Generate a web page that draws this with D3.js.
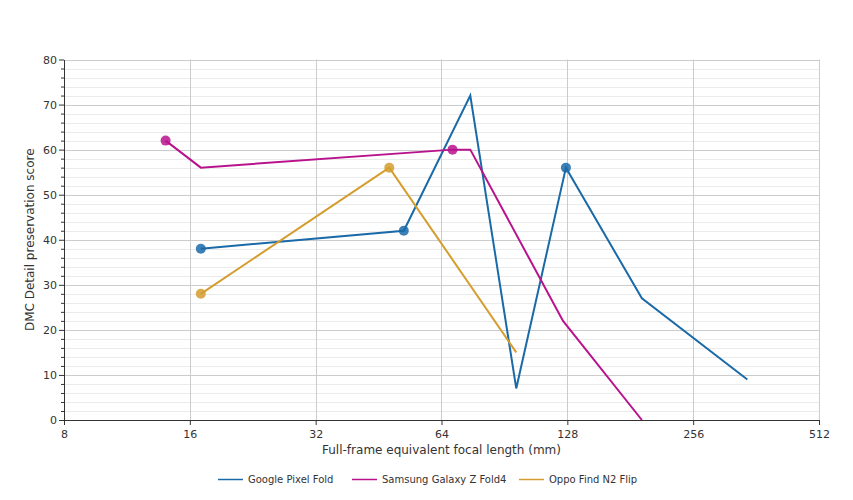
<!DOCTYPE html>
<html><head><meta charset="utf-8">
<script src="https://cdn.jsdelivr.net/npm/d3@7"></script>
<style>body{margin:0;background:#fff}svg text{font-family:"DejaVu Sans",Verdana,sans-serif;fill:#333}</style>
</head><body><svg id="c" width="853" height="500"></svg>
<script>
const xTicks = [8, 16, 32, 64, 128, 256, 512];
const yTicks = [0, 10, 20, 30, 40, 50, 60, 70, 80];
const seriesNames = ["Google Pixel Fold", "Samsung Galaxy Z Fold4", "Oppo Find N2 Flip"];
const seriesColors = ["#1b6aa8", "#b8138d", "#d49d2e"];
const pixelX = [17, 52, 75, 96.6, 127, 193, 345];
const pixelY = [38, 42, 72, 7, 56, 27, 9];
const pixelMarkers = [17, 52, 127];
const samsungX = [14, 17, 68, 75, 125, 193];
const samsungY = [62, 56, 60, 60, 22, 0];
const samsungMarkers = [14, 68];
const oppoX = [17, 48, 96.6];
const oppoY = [28, 56, 15];
const oppoMarkers = [17, 48];

const series = [
  {xs: pixelX, ys: pixelY, m: pixelMarkers},
  {xs: samsungX, ys: samsungY, m: samsungMarkers},
  {xs: oppoX, ys: oppoY, m: oppoMarkers}
];

const svg = d3.select("#c");
const L = 64, R = 819, T = 59.5, B = 420;
const x = d3.scaleLog().base(2).domain([8, 512]).range([L, R]);
const y = d3.scaleLinear().domain([0, 80]).range([B, T]);

const g = svg.append("g");
// minor grid
const minor = d3.range(0, 81, 2).filter(v => v % 10 !== 0);
g.selectAll(".mg").data(minor).join("line")
  .attr("x1", L).attr("x2", R).attr("y1", d => Math.round(y(d)) + 0.5).attr("y2", d => Math.round(y(d)) + 0.5)
  .attr("stroke", "#ebebeb").attr("stroke-width", 1);
// major grid
g.selectAll(".yg").data(yTicks.filter(d => d > 0)).join("line")
  .attr("x1", L).attr("x2", R).attr("y1", d => Math.round(y(d)) + 0.5).attr("y2", d => Math.round(y(d)) + 0.5)
  .attr("stroke", "#cccccc");
g.selectAll(".xg").data(xTicks.filter(d => d > 8)).join("line")
  .attr("y1", T).attr("y2", B).attr("x1", d => Math.round(x(d)) + 0.5).attr("x2", d => Math.round(x(d)) + 0.5)
  .attr("stroke", "#cccccc");

// axes
const xAxis = d3.axisBottom(x).tickValues(xTicks).tickFormat(d3.format("d")).tickSize(5).tickSizeOuter(0);
const xa = svg.append("g").attr("transform", `translate(0,${B})`).call(xAxis);
xa.select(".domain").attr("stroke", "#333");
xa.selectAll(".tick line").attr("stroke", "#333");
xa.selectAll("text").attr("font-size", 11).attr("dy", "0.9em").attr("fill", "#333");

const yAxis = d3.axisLeft(y).tickValues(yTicks).tickSize(5).tickSizeOuter(0);
const ya = svg.append("g").attr("transform", `translate(${L},0)`).call(yAxis);
ya.select(".domain").attr("stroke", "#333");
ya.selectAll(".tick line").attr("stroke", "#333");
ya.selectAll("text").attr("font-size", 11).attr("fill", "#333").attr("x", -7);
const yMinor = d3.axisLeft(y).tickValues(minor).tickSize(3).tickFormat("");
const ym = svg.append("g").attr("transform", `translate(${L},0)`).call(yMinor);
ym.select(".domain").remove();
ym.selectAll(".tick line").attr("stroke", "#333");

// lines
const line = d3.line().x(d => x(d[0])).y(d => y(d[1]));
series.forEach((s, i) => {
  const pts = s.xs.map((v, j) => [v, s.ys[j]]);
  svg.append("path").datum(pts).attr("d", line).attr("fill", "none")
    .attr("stroke", seriesColors[i]).attr("stroke-width", 2).attr("stroke-linejoin", "miter");
  const mk = pts.filter(p => s.m.includes(p[0]));
  svg.selectAll(null).data(mk).join("circle")
    .attr("cx", d => x(d[0])).attr("cy", d => y(d[1])).attr("r", 5)
    .attr("fill", seriesColors[i]).attr("fill-opacity", 0.85);
});

// axis titles
svg.append("text").attr("x", (L + R) / 2).attr("y", 454).attr("text-anchor", "middle")
  .attr("font-size", 12).text("Full-frame equivalent focal length (mm)");
svg.append("text").attr("transform", `translate(34,${(T + B) / 2}) rotate(-90)`).attr("text-anchor", "middle")
  .attr("font-size", 12).text("DMC Detail preservation score");

// legend
const legX = [218, 352, 519];
seriesNames.forEach((n, i) => {
  svg.append("line").attr("x1", legX[i]).attr("x2", legX[i] + 25).attr("y1", 479.5).attr("y2", 479.5)
    .attr("stroke", seriesColors[i]).attr("stroke-width", 1.5);
  svg.append("text").attr("x", legX[i] + 30).attr("y", 483).attr("font-size", 10).text(n);
});
</script></body></html>
